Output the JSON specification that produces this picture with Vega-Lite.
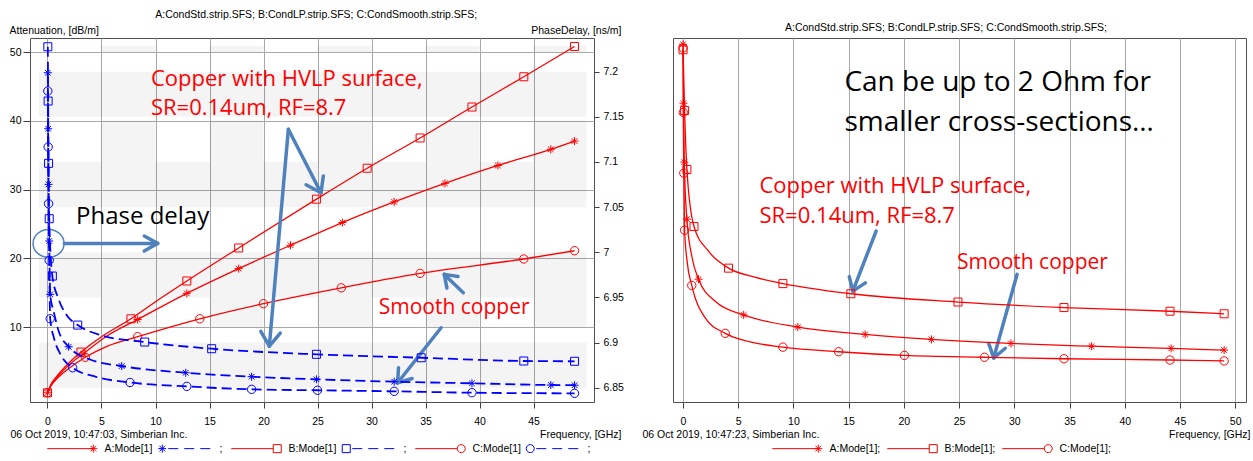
{
  "$schema": "https://vega.github.io/schema/vega-lite/v6.json",
  "background": "#ffffff",
  "padding": {"left": 8, "top": 9, "right": 0, "bottom": 0},
  "config": {
    "font": "Liberation Sans",
    "view": {"stroke": "#505050", "strokeWidth": 1},
    "axis": {"labelFontSize": 10.5, "labelColor": "#000000", "titleFontSize": 10.5, "titleFontWeight": "normal", "titleColor": "#000000", "tickColor": "#404040", "gridColor": "#a8a8a8", "gridOpacity": 1, "domain": false, "labelFlush": false, "labelOverlap": false},
    "title": {"fontSize": 10.5, "fontWeight": "normal", "color": "#000000", "anchor": "middle", "frame": "bounds", "offset": 5},
    "legend": {"labelFontSize": 10.5, "labelColor": "#000000", "titleFontSize": 10.5}
  },
  "datasets": {
    "attC": [
      {"s":"B","f":0,"a":0.44,"m":1},{"s":"B","f":0.3,"a":1.6,"m":0},{"s":"B","f":1,"a":3.1,"m":0},{"s":"B","f":2,"a":4.8,"m":0},{"s":"B","f":3.1,"a":6.36,"m":1},{"s":"B","f":5,"a":8.6,"m":0},{"s":"B","f":7.73,"a":11.2,"m":1},{"s":"B","f":10.3,"a":14,"m":0},{"s":"B","f":12.9,"a":16.7,"m":1},{"s":"B","f":17.7,"a":21.5,"m":1},{"s":"B","f":24.9,"a":28.6,"m":1},{"s":"B","f":29.6,"a":33.1,"m":1},{"s":"B","f":34.5,"a":37.5,"m":1},{"s":"B","f":39.3,"a":42,"m":1},{"s":"B","f":44.1,"a":46.4,"m":1},{"s":"B","f":48.8,"a":50.8,"m":1},
      {"s":"A","f":0,"a":0.44,"m":1},{"s":"A","f":0.3,"a":1.5,"m":0},{"s":"A","f":1,"a":2.9,"m":0},{"s":"A","f":2,"a":4.5,"m":0},{"s":"A","f":3.3,"a":6.1,"m":1},{"s":"A","f":5.5,"a":8.7,"m":0},{"s":"A","f":8.35,"a":11.1,"m":1},{"s":"A","f":12.9,"a":14.9,"m":1},{"s":"A","f":17.7,"a":18.5,"m":1},{"s":"A","f":22.5,"a":21.9,"m":1},{"s":"A","f":27.3,"a":25.2,"m":1},{"s":"A","f":32.1,"a":28.2,"m":1},{"s":"A","f":36.8,"a":30.9,"m":1},{"s":"A","f":41.7,"a":33.5,"m":1},{"s":"A","f":46.6,"a":35.85,"m":1},{"s":"A","f":48.8,"a":37.05,"m":1},
      {"s":"C","f":0,"a":0.44,"m":1},{"s":"C","f":0.3,"a":1.4,"m":0},{"s":"C","f":1,"a":2.7,"m":0},{"s":"C","f":2,"a":4,"m":0},{"s":"C","f":3.5,"a":5.6,"m":1},{"s":"C","f":5.5,"a":7.2,"m":0},{"s":"C","f":8.35,"a":8.6,"m":1},{"s":"C","f":14.1,"a":11.2,"m":1},{"s":"C","f":20,"a":13.4,"m":1},{"s":"C","f":27.2,"a":15.7,"m":1},{"s":"C","f":34.5,"a":17.8,"m":1},{"s":"C","f":44.1,"a":19.9,"m":1},{"s":"C","f":48.8,"a":21.1,"m":1}
    ],
    "pdC": [
      {"s":"B","f":0.03,"p":7.2276,"m":1},{"s":"B","f":0.06,"p":7.1675,"m":1},{"s":"B","f":0.1,"p":7.0985,"m":1},{"s":"B","f":0.16,"p":7.0372,"m":1},{"s":"B","f":0.45,"p":6.9737,"m":1},{"s":"B","f":1,"p":6.949,"m":0},{"s":"B","f":1.8,"p":6.93,"m":0},{"s":"B","f":2.8,"p":6.9194,"m":1},{"s":"B","f":5,"p":6.908,"m":0},{"s":"B","f":9,"p":6.9006,"m":1},{"s":"B","f":15.2,"p":6.8932,"m":1},{"s":"B","f":24.9,"p":6.887,"m":1},{"s":"B","f":34.6,"p":6.8832,"m":1},{"s":"B","f":44.1,"p":6.8796,"m":1},{"s":"B","f":48.8,"p":6.8793,"m":1},
      {"s":"A","f":0.03,"p":7.1988,"m":1},{"s":"A","f":0.06,"p":7.1368,"m":1},{"s":"A","f":0.1,"p":7.0752,"m":1},{"s":"A","f":0.16,"p":7.0125,"m":1},{"s":"A","f":0.25,"p":6.9534,"m":1},{"s":"A","f":0.6,"p":6.933,"m":0},{"s":"A","f":1,"p":6.914,"m":0},{"s":"A","f":1.96,"p":6.8954,"m":1},{"s":"A","f":4,"p":6.881,"m":0},{"s":"A","f":6.87,"p":6.874,"m":1},{"s":"A","f":12.8,"p":6.8666,"m":1},{"s":"A","f":18.9,"p":6.8622,"m":1},{"s":"A","f":24.9,"p":6.8593,"m":1},{"s":"A","f":32.1,"p":6.8567,"m":1},{"s":"A","f":39.3,"p":6.8549,"m":1},{"s":"A","f":46.6,"p":6.853,"m":1},{"s":"A","f":48.8,"p":6.8528,"m":1},
      {"s":"C","f":0.03,"p":7.1786,"m":1},{"s":"C","f":0.06,"p":7.1166,"m":1},{"s":"C","f":0.1,"p":7.0538,"m":1},{"s":"C","f":0.16,"p":6.9911,"m":1},{"s":"C","f":0.25,"p":6.9264,"m":1},{"s":"C","f":0.6,"p":6.905,"m":0},{"s":"C","f":1.2,"p":6.887,"m":0},{"s":"C","f":2.33,"p":6.8721,"m":1},{"s":"C","f":4.5,"p":6.862,"m":0},{"s":"C","f":7.64,"p":6.8558,"m":1},{"s":"C","f":12.9,"p":6.8515,"m":1},{"s":"C","f":18.9,"p":6.8482,"m":1},{"s":"C","f":25,"p":6.8472,"m":1},{"s":"C","f":32.1,"p":6.846,"m":1},{"s":"C","f":39.3,"p":6.8445,"m":1},{"s":"C","f":48.8,"p":6.8438,"m":1}
    ],
    "zoC": [
      {"s":"B","f":0.01,"z":52.08,"m":1},{"s":"B","f":0.15,"z":51.75,"m":1},{"s":"B","f":0.36,"z":51.43,"m":1},{"s":"B","f":1,"z":51.12,"m":1},{"s":"B","f":2.26,"z":50.99,"m":0},{"s":"B","f":4.13,"z":50.894,"m":1},{"s":"B","f":6.5,"z":50.845,"m":0},{"s":"B","f":9.05,"z":50.81,"m":1},{"s":"B","f":15.2,"z":50.755,"m":1},{"s":"B","f":24.9,"z":50.71,"m":1},{"s":"B","f":34.5,"z":50.68,"m":1},{"s":"B","f":44.1,"z":50.66,"m":1},{"s":"B","f":49,"z":50.646,"m":1},
      {"s":"A","f":0.01,"z":52.11,"m":1},{"s":"A","f":0.05,"z":51.79,"m":1},{"s":"A","f":0.12,"z":51.47,"m":1},{"s":"A","f":0.36,"z":51.16,"m":1},{"s":"A","f":0.8,"z":50.96,"m":0},{"s":"A","f":1.41,"z":50.834,"m":1},{"s":"A","f":3,"z":50.71,"m":0},{"s":"A","f":5.5,"z":50.64,"m":1},{"s":"A","f":10.4,"z":50.574,"m":1},{"s":"A","f":16.5,"z":50.534,"m":1},{"s":"A","f":22.5,"z":50.507,"m":1},{"s":"A","f":29.7,"z":50.485,"m":1},{"s":"A","f":37,"z":50.47,"m":1},{"s":"A","f":44.2,"z":50.458,"m":1},{"s":"A","f":49,"z":50.449,"m":1},
      {"s":"C","f":0.01,"z":52.09,"m":1},{"s":"C","f":0.03,"z":51.74,"m":1},{"s":"C","f":0.08,"z":51.41,"m":1},{"s":"C","f":0.15,"z":51.1,"m":1},{"s":"C","f":0.4,"z":50.92,"m":0},{"s":"C","f":0.8,"z":50.8,"m":1},{"s":"C","f":2,"z":50.625,"m":0},{"s":"C","f":3.83,"z":50.54,"m":1},{"s":"C","f":6,"z":50.495,"m":0},{"s":"C","f":9.05,"z":50.465,"m":1},{"s":"C","f":14.1,"z":50.44,"m":1},{"s":"C","f":20.05,"z":50.42,"m":1},{"s":"C","f":27.3,"z":50.41,"m":1},{"s":"C","f":34.5,"z":50.402,"m":1},{"s":"C","f":44.1,"z":50.395,"m":1},{"s":"C","f":49,"z":50.39,"m":1}
    ],
    "bandsL": [
      {"p0":7.15,"p1":7.2},{"p0":7.05,"p1":7.1},{"p0":6.95,"p1":7.0},{"p0":6.85,"p1":6.9}
    ],
    "checkL": [
      {"f0":5,"f1":10,"a0":50,"a1":50.9},{"f0":15,"f1":20,"a0":50,"a1":50.9},{"f0":25,"f1":30,"a0":50,"a1":50.9},{"f0":35,"f1":40,"a0":50,"a1":50.9},{"f0":45,"f1":49.9,"a0":50,"a1":50.9},
      {"f0":5,"f1":10,"a0":34,"a1":40},{"f0":15,"f1":20,"a0":34,"a1":40},{"f0":25,"f1":30,"a0":34,"a1":40},{"f0":35,"f1":40,"a0":34,"a1":40},{"f0":45,"f1":49.9,"a0":34,"a1":40},
      {"f0":5,"f1":10,"a0":10,"a1":14.3},{"f0":15,"f1":20,"a0":10,"a1":14.3},{"f0":25,"f1":30,"a0":10,"a1":14.3},{"f0":35,"f1":40,"a0":10,"a1":14.3},{"f0":45,"f1":49.9,"a0":10,"a1":14.3}
    ],
    "arrL": [
      {"f":1.56,"a":22.17,"f2":10.2,"a2":22.17},{"f":10.2,"a":22.17,"f2":8.96,"a2":23.24},{"f":10.2,"a":22.17,"f2":8.96,"a2":21.06},
      {"f":22.3,"a":38.76,"f2":25.32,"a2":29.53},{"f":25.32,"a":29.53,"f2":25.54,"a2":31.98},{"f":25.32,"a":29.53,"f2":23.94,"a2":30.69},
      {"f":22.3,"a":38.76,"f2":20.54,"a2":7.24},{"f":20.54,"a":7.24,"f2":21.55,"a2":9.13},{"f":20.54,"a":7.24,"f2":19.75,"a2":9.37},
      {"f":38.5,"a":14.99,"f2":36.74,"a2":17.66},{"f":36.74,"a":17.66,"f2":36.98,"a2":15.66},{"f":36.74,"a":17.66,"f2":38.02,"a2":17.34},
      {"f":36.44,"a":9.9,"f2":32.42,"a2":1.9},{"f":32.42,"a":1.9,"f2":33.76,"a2":2.52},{"f":32.42,"a":1.9,"f2":32.5,"a2":4.08}
    ],
    "arrR": [
      {"f":17.49,"z":51.095,"f2":15.38,"z2":50.769},{"f":15.38,"z":50.769,"f2":16.52,"z2":50.814},{"f":15.38,"z":50.769,"f2":15.06,"z2":50.848},
      {"f":30.25,"z":50.86,"f2":28.14,"z2":50.407},{"f":28.14,"z":50.407,"f2":29.19,"z2":50.459},{"f":28.14,"z":50.407,"f2":27.69,"z2":50.484}
    ],
    "ringL": [{"f":0.1,"a":22.17}],
    "hvlpNotesL": [
      {"t":"Copper with HVLP surface,","f":9.58,"a":45.1},
      {"t":"SR=0.14um, RF=8.7","f":9.58,"a":40.84}
    ],
    "smoothNoteL": [{"t":"Smooth copper","f":30.67,"a":11.9}],
    "blackNotesL": [{"t":"Phase delay","f":2.64,"a":24.98}],
    "hvlpNotesR": [
      {"t":"Copper with HVLP surface,","f":6.93,"z":51.303},
      {"t":"SR=0.14um, RF=8.7","f":6.93,"z":51.14}
    ],
    "smoothNoteR": [{"t":"Smooth copper","f":24.82,"z":50.889}],
    "blackNotesR": [
      {"t":"Can be up to 2 Ohm for","f":14.62,"z":51.855},
      {"t":"smaller cross-sections…","f":14.62,"z":51.638}
    ],
    "keys": [{"e":"A:Mode[1]"}]
  },
  "hconcat": [
    {
      "width": 564,
      "height": 364,
      "title": {"text": "A:CondStd.strip.SFS; B:CondLP.strip.SFS; C:CondSmooth.strip.SFS;"},
      "resolve": {"scale": {"y": "independent"}, "axis": {"x": "independent"}},
      "layer": [
        {
          "data": {"name": "bandsL"},
          "mark": {"type": "rect", "color": "#000000", "opacity": 0.045},
          "encoding": {
            "x": {"datum": -0.8, "type": "quantitative", "scale": {"domain": [-1.62, 50.6], "nice": false, "zero": false},
                  "axis": {"orient": "bottom", "ticks": false, "labels": false, "grid": false, "domain": false, "title": "06 Oct 2019, 10:47:03, Simberian Inc.", "titleX": -20, "titleY": 35, "titleAlign": "left", "titleBaseline": "alphabetic", "titleAnchor": "start"}},
            "x2": {"datum": 49.9},
            "y": {"field": "p0", "type": "quantitative", "scale": {"domain": [6.8342, 7.2373], "nice": false, "zero": false}, "axis": null},
            "y2": {"field": "p1"}
          }
        },
        {
          "encoding": {
            "x": {"field": "f", "type": "quantitative", "scale": {"domain": [-1.62, 50.6], "nice": false, "zero": false},
                  "axis": {"orient": "bottom", "values": [0,5,10,15,20,25,30,35,40,45], "grid": true, "tickSize": 6, "labelPadding": 8, "title": "Frequency, [GHz]", "titleX": 591, "titleY": 35, "titleAlign": "right", "titleBaseline": "alphabetic", "titleAnchor": "end"}},
            "y": {"field": "a", "type": "quantitative", "scale": {"domain": [-0.9, 52.04], "nice": false, "zero": false},
                  "axis": {"orient": "left", "values": [10,20,30,40,50], "grid": true, "tickSize": 7, "labelPadding": 2, "title": "Attenuation, [dB/m]", "titleAngle": 0, "titleX": -21, "titleY": -5, "titleAlign": "left", "titleBaseline": "alphabetic", "titleAnchor": "start"}}
          },
          "layer": [
            {
              "data": {"name": "attC"},
              "mark": {"type": "line", "color": "#ff0000", "strokeWidth": 1.3, "interpolate": "monotone"},
              "encoding": {"detail": {"field": "s"}}
            },
            {
              "data": {"name": "checkL"},
              "mark": {"type": "rect", "color": "#000000", "opacity": 0.045},
              "encoding": {
                "x": {"field": "f0", "type": "quantitative"},
                "x2": {"field": "f1"},
                "y": {"field": "a0", "type": "quantitative"},
                "y2": {"field": "a1"}
              }
            },
            {
              "data": {"name": "arrL"},
              "mark": {"type": "rule", "color": "#4f81bd", "strokeWidth": 3.5, "strokeCap": "round"},
              "encoding": {"x2": {"field": "f2"}, "y2": {"field": "a2"}}
            },
            {
              "data": {"name": "ringL"},
              "mark": {"type": "point", "shape": "M-1,0A1,0.9 0 1,1 1,0A1,0.9 0 1,1 -1,0", "size": 961, "filled": false, "color": "#4f81bd", "strokeWidth": 1.5, "opacity": 1}
            },
            {
              "data": {"name": "attC"},
              "transform": [{"filter": "datum.s == 'A' && datum.m == 1"}],
              "mark": {"type": "point", "shape": "M-1,0H1M0,-1V1M-0.7,-0.7L0.7,0.7M-0.7,0.7L0.7,-0.7", "size": 64, "filled": false, "color": "#ff0000", "strokeWidth": 1, "opacity": 1}
            },
            {
              "data": {"name": "attC"},
              "transform": [{"filter": "datum.s == 'B' && datum.m == 1"}],
              "mark": {"type": "point", "shape": "square", "size": 64, "filled": false, "color": "#ff0000", "strokeWidth": 1, "opacity": 1}
            },
            {
              "data": {"name": "attC"},
              "transform": [{"filter": "datum.s == 'C' && datum.m == 1"}],
              "mark": {"type": "point", "shape": "circle", "size": 70, "filled": false, "color": "#ff0000", "strokeWidth": 1, "opacity": 1}
            },
            {
              "data": {"name": "hvlpNotesL"},
              "mark": {"type": "text", "align": "left", "baseline": "alphabetic", "font": "Open Sans", "fontSize": 22, "color": "#ff0000"},
              "encoding": {"text": {"field": "t"}}
            },
            {
              "data": {"name": "smoothNoteL"},
              "mark": {"type": "text", "align": "left", "baseline": "alphabetic", "font": "Open Sans", "fontSize": 21, "color": "#ff0000"},
              "encoding": {"text": {"field": "t"}}
            },
            {
              "data": {"name": "blackNotesL"},
              "mark": {"type": "text", "align": "left", "baseline": "alphabetic", "font": "Open Sans", "fontSize": 24, "color": "#000000"},
              "encoding": {"text": {"field": "t"}}
            },
            {
              "data": {"name": "keys"},
              "transform": [{"filter": "false"}],
              "mark": {"type": "point", "filled": false, "opacity": 1},
              "encoding": {
                "color": {"field": "e", "type": "nominal",
                  "scale": {"domain": ["A:Mode[1]", "A;", "B:Mode[1]", "B;", "C:Mode[1]", "C;"], "range": ["#ff0000", "#0000ff", "#ff0000", "#0000ff", "#ff0000", "#0000ff"]},
                  "legend": {"orient": "bottom", "offset": 3, "direction": "horizontal", "title": "\u00a0", "titleOrient": "left", "titlePadding": 12, "labelExpr": "length(datum.label) < 3 ? ';' : datum.label", "symbolSize": 64, "symbolStrokeWidth": 1, "columnPadding": 3, "labelOffset": 52, "padding": 0}},
                "shape": {"field": "e", "type": "nominal",
                  "scale": {"domain": ["A:Mode[1]", "A;", "B:Mode[1]", "B;", "C:Mode[1]", "C;"],
                            "range": [
                              "M0,0H11.5M10.5,0H12.5M11.5,-1V1M10.8,-0.7L12.2,0.7M10.8,0.7L12.2,-0.7",
                              "M-1,0H1M0,-1V1M-0.7,-0.7L0.7,0.7M-0.7,0.7L0.7,-0.7M1.5,0H4M5.5,0H8M9.5,0H12",
                              "M0,0H10.5M10.5,-1H12.5V1H10.5Z",
                              "M-1,-1H1V1H-1ZM1.5,0H4M5.5,0H8M9.5,0H12",
                              "M0,0H10.5M10.5,0A1,1 0 1,1 12.5,0A1,1 0 1,1 10.5,0",
                              "M-1,0A1,1 0 1,1 1,0A1,1 0 1,1 -1,0M1.5,0H4M5.5,0H8M9.5,0H12"
                            ]},
                  "legend": {"orient": "bottom", "offset": 3, "direction": "horizontal", "title": "\u00a0", "titleOrient": "left", "titlePadding": 12, "labelExpr": "length(datum.label) < 3 ? ';' : datum.label", "symbolSize": 64, "symbolStrokeWidth": 1, "columnPadding": 3, "labelOffset": 52, "padding": 0}}
              }
            }
          ]
        },
        {
          "data": {"name": "pdC"},
          "encoding": {
            "x": {"field": "f", "type": "quantitative", "scale": {"domain": [-1.62, 50.6], "nice": false, "zero": false}, "axis": null},
            "y": {"field": "p", "type": "quantitative", "scale": {"domain": [6.8342, 7.2373], "nice": false, "zero": false},
                  "axis": {"orient": "right", "values": [6.85, 6.9, 6.95, 7, 7.05, 7.1, 7.15, 7.2], "format": "~g", "grid": false, "tickSize": 5, "labelPadding": 4, "title": "PhaseDelay, [ns/m]", "titleAngle": 0, "titleX": 27, "titleY": -5, "titleAlign": "right", "titleBaseline": "alphabetic", "titleAnchor": "end"}}
          },
          "layer": [
            {"mark": {"type": "line", "color": "#0000ff", "strokeWidth": 1.8, "strokeDash": [10, 5], "interpolate": "monotone"}, "encoding": {"detail": {"field": "s"}}},
            {"transform": [{"filter": "datum.s == 'A' && datum.m == 1"}], "mark": {"type": "point", "shape": "M-1,0H1M0,-1V1M-0.7,-0.7L0.7,0.7M-0.7,0.7L0.7,-0.7", "size": 64, "filled": false, "color": "#0000ff", "strokeWidth": 1, "opacity": 1}},
            {"transform": [{"filter": "datum.s == 'B' && datum.m == 1"}], "mark": {"type": "point", "shape": "square", "size": 64, "filled": false, "color": "#0000ff", "strokeWidth": 1, "opacity": 1}},
            {"transform": [{"filter": "datum.s == 'C' && datum.m == 1"}], "mark": {"type": "point", "shape": "circle", "size": 70, "filled": false, "color": "#0000ff", "strokeWidth": 1, "opacity": 1}}
          ]
        }
      ]
    },
    {
      "width": 573,
      "height": 364,
      "title": {"text": "A:CondStd.strip.SFS; B:CondLP.strip.SFS; C:CondSmooth.strip.SFS;"},
      "resolve": {"axis": {"x": "independent"}},
      "layer": [
        {
          "data": {"name": "arrR"},
          "mark": {"type": "rule", "color": "#4f81bd", "strokeWidth": 3.5, "strokeCap": "round"},
          "encoding": {
            "x": {"field": "f", "type": "quantitative", "scale": {"domain": [-0.9, 50.98], "nice": false, "zero": false},
                  "axis": {"orient": "bottom", "ticks": false, "labels": false, "grid": false, "domain": false, "title": "06 Oct 2019, 10:47:23, Simberian Inc.", "titleX": -31, "titleY": 35, "titleAlign": "left", "titleBaseline": "alphabetic", "titleAnchor": "start"}},
            "y": {"field": "z", "type": "quantitative", "scale": {"domain": [50.167, 52.144], "nice": false, "zero": false}, "axis": null},
            "x2": {"field": "f2"},
            "y2": {"field": "z2"}
          }
        },
        {
          "encoding": {
            "x": {"field": "f", "type": "quantitative", "scale": {"domain": [-0.9, 50.98], "nice": false, "zero": false},
                  "axis": {"orient": "bottom", "values": [0,5,10,15,20,25,30,35,40,45,50], "grid": true, "tickSize": 6, "labelPadding": 8, "title": "Frequency, [GHz]", "titleX": 577, "titleY": 35, "titleAlign": "right", "titleBaseline": "alphabetic", "titleAnchor": "end"}},
            "y": {"field": "z", "type": "quantitative", "scale": {"domain": [50.167, 52.144], "nice": false, "zero": false},
                  "axis": {"orient": "left", "values": [50.25, 50.5, 50.75, 51, 51.25, 51.5, 51.75, 52], "format": "~g", "grid": true, "tickSize": 7, "labelPadding": 2, "title": "Magnitude(Zo), [Ohm]", "titleAngle": 0, "titleX": -34, "titleY": -5, "titleAlign": "left", "titleBaseline": "alphabetic", "titleAnchor": "start"}}
          },
          "layer": [
            {
              "data": {"name": "zoC"},
              "mark": {"type": "line", "color": "#ff0000", "strokeWidth": 1.3, "interpolate": "monotone"},
              "encoding": {"detail": {"field": "s"}}
            },
            {
              "data": {"name": "zoC"},
              "transform": [{"filter": "datum.s == 'A' && datum.m == 1"}],
              "mark": {"type": "point", "shape": "M-1,0H1M0,-1V1M-0.7,-0.7L0.7,0.7M-0.7,0.7L0.7,-0.7", "size": 64, "filled": false, "color": "#ff0000", "strokeWidth": 1, "opacity": 1}
            },
            {
              "data": {"name": "zoC"},
              "transform": [{"filter": "datum.s == 'B' && datum.m == 1"}],
              "mark": {"type": "point", "shape": "square", "size": 64, "filled": false, "color": "#ff0000", "strokeWidth": 1, "opacity": 1}
            },
            {
              "data": {"name": "zoC"},
              "transform": [{"filter": "datum.s == 'C' && datum.m == 1"}],
              "mark": {"type": "point", "shape": "circle", "size": 70, "filled": false, "color": "#ff0000", "strokeWidth": 1, "opacity": 1}
            },
            {
              "data": {"name": "hvlpNotesR"},
              "mark": {"type": "text", "align": "left", "baseline": "alphabetic", "font": "Open Sans", "fontSize": 22, "color": "#ff0000"},
              "encoding": {"text": {"field": "t"}}
            },
            {
              "data": {"name": "smoothNoteR"},
              "mark": {"type": "text", "align": "left", "baseline": "alphabetic", "font": "Open Sans", "fontSize": 21, "color": "#ff0000"},
              "encoding": {"text": {"field": "t"}}
            },
            {
              "data": {"name": "blackNotesR"},
              "mark": {"type": "text", "align": "left", "baseline": "alphabetic", "font": "Open Sans", "fontSize": 28, "color": "#000000"},
              "encoding": {"text": {"field": "t"}}
            },
            {
              "data": {"name": "keys"},
              "transform": [{"filter": "false"}],
              "mark": {"type": "point", "filled": false, "opacity": 1},
              "encoding": {
                "color": {"field": "e", "type": "nominal",
                  "scale": {"domain": ["A:Mode[1];", "B:Mode[1];", "C:Mode[1];"], "range": ["#ff0000", "#ff0000", "#ff0000"]},
                  "legend": {"orient": "bottom", "offset": 3, "direction": "horizontal", "title": "\u00a0", "titleOrient": "left", "titlePadding": 94, "symbolSize": 64, "symbolStrokeWidth": 1, "columnPadding": 1, "labelOffset": 52, "padding": 0}},
                "shape": {"field": "e", "type": "nominal",
                  "scale": {"domain": ["A:Mode[1];", "B:Mode[1];", "C:Mode[1];"],
                            "range": [
                              "M0,0H11.5M10.5,0H12.5M11.5,-1V1M10.8,-0.7L12.2,0.7M10.8,0.7L12.2,-0.7",
                              "M0,0H10.5M10.5,-1H12.5V1H10.5Z",
                              "M0,0H10.5M10.5,0A1,1 0 1,1 12.5,0A1,1 0 1,1 10.5,0"
                            ]},
                  "legend": {"orient": "bottom", "offset": 3, "direction": "horizontal", "title": "\u00a0", "titleOrient": "left", "titlePadding": 94, "symbolSize": 64, "symbolStrokeWidth": 1, "columnPadding": 1, "labelOffset": 52, "padding": 0}}
              }
            }
          ]
        }
      ]
    }
  ],
  "spacing": 79,
  "bounds": "flush",
  "resolve": {"scale": {"color": "independent", "shape": "independent"}}
}
